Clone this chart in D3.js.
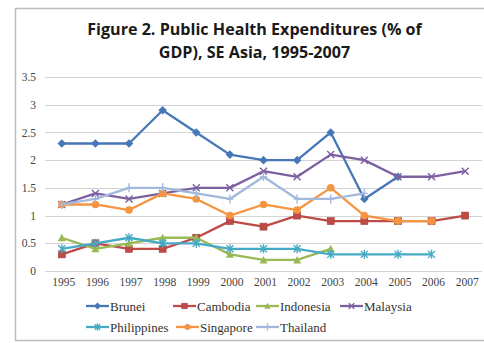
<!DOCTYPE html>
<html>
<head>
<meta charset="utf-8">
<script src="https://cdn.jsdelivr.net/npm/d3@7"></script>
<style>
  html, body { margin: 0; padding: 0; background: #fff; }
  svg { display: block; }
</style>
</head>
<body>
<svg id="chart" width="484" height="343"></svg>
<script>
// Public health expenditure, % of GDP
const years = ["1995","1996","1997","1998","1999","2000","2001","2002","2003","2004","2005","2006","2007"];
const yTicks = [0, 0.5, 1, 1.5, 2, 2.5, 3, 3.5];
const seriesNames = ["Brunei","Cambodia","Indonesia","Malaysia","Philippines","Singapore","Thailand"];

const brunei      = [2.3, 2.3, 2.3, 2.9, 2.5, 2.1, 2.0, 2.0, 2.5, 1.3, 1.7];
const cambodia    = [0.3, 0.5, 0.4, 0.4, 0.6, 0.9, 0.8, 1.0, 0.9, 0.9, 0.9, 0.9, 1.0];
const indonesia   = [0.6, 0.4, 0.5, 0.6, 0.6, 0.3, 0.2, 0.2, 0.4];
const malaysia    = [1.2, 1.4, 1.3, 1.4, 1.5, 1.5, 1.8, 1.7, 2.1, 2.0, 1.7, 1.7, 1.8];
const philippines = [0.4, 0.5, 0.6, 0.5, 0.5, 0.4, 0.4, 0.4, 0.3, 0.3, 0.3, 0.3];
const singapore   = [1.2, 1.2, 1.1, 1.4, 1.3, 1.0, 1.2, 1.1, 1.5, 1.0, 0.9, 0.9];
const thailand    = [1.2, 1.3, 1.5, 1.5, 1.4, 1.3, 1.7, 1.3, 1.3, 1.4];

const colors  = ["#4677b6", "#be4b48", "#98b954", "#7d60a0", "#46aac5", "#f59542", "#a2b9dd"];
const markers = ["diamond", "square", "triangle", "x", "asterisk", "circle", "plus"];
const values  = [brunei, cambodia, indonesia, malaysia, philippines, singapore, thailand];

const series = seriesNames.map((name, i) => ({
  name, color: colors[i], marker: markers[i],
  points: values[i].map((v, j) => ({ year: years[j], value: v }))
}));

const svg = d3.select("#chart");

// outer chart frame
svg.append("rect")
  .attr("x", 15.5).attr("y", 8.5)
  .attr("width", 490).attr("height", 332)
  .attr("fill", "#fff").attr("stroke", "#bdbdbd").attr("stroke-width", 1.5);

// title
const title = svg.append("text")
  .attr("text-anchor", "middle")
  .attr("font-family", "'Open Sans', 'Liberation Sans', sans-serif")
  .attr("font-weight", "bold")
  .attr("fill", "#1a1a1a");
const tl1 = title.append("tspan").attr("x", 254.5).attr("y", 35).text("Figure 2. Public Health Expenditures (% of");
const tl2 = title.append("tspan").attr("x", 254.5).attr("y", 58).text("GDP), SE Asia, 1995-2007");
title.attr("font-size", 17);
const w1 = tl1.node().getComputedTextLength();
title.attr("font-size", 17 * 335 / w1);

// plot area
const plot = { left: 45, right: 482, top: 77, bottom: 271 };

const x = d3.scalePoint().domain(years)
  .range([plot.left, plot.right]).padding(0.5);
const y = d3.scaleLinear().domain([0, 3.5]).range([plot.bottom, plot.top]);

// gridlines
svg.append("g")
  .selectAll("line").data(yTicks).join("line")
  .attr("x1", plot.left).attr("x2", plot.right)
  .attr("y1", d => Math.round(y(d)) + 0.5).attr("y2", d => Math.round(y(d)) + 0.5)
  .attr("stroke", "#d4d4d4").attr("stroke-width", 1);

// y axis labels
const yAxis = d3.axisLeft(y).tickValues(yTicks).tickSize(0).tickPadding(0)
  .tickFormat(d => String(d));
svg.append("g")
  .attr("transform", `translate(36,0)`)
  .call(yAxis)
  .call(g => g.select(".domain").remove())
  .call(g => g.selectAll("text")
    .attr("font-family", "'Liberation Serif', 'Times New Roman', serif")
    .attr("font-size", 11.5).attr("fill", "#444"));

// x axis labels
const xAxis = d3.axisBottom(x).tickSize(0).tickPadding(0);
svg.append("g")
  .attr("transform", `translate(1.5,${plot.bottom + 7})`)
  .call(xAxis)
  .call(g => g.select(".domain").remove())
  .call(g => g.selectAll("text")
    .attr("font-family", "'Liberation Serif', 'Times New Roman', serif")
    .attr("font-size", 11.5).attr("fill", "#444"));

// marker drawing
function drawMarker(sel, type, color, s) {
  const h = s / 2;
  switch (type) {
    case "diamond":
      sel.append("path").attr("d", `M0,${-h-0.8}L${h+0.8},0L0,${h+0.8}L${-h-0.8},0Z`).attr("fill", color);
      break;
    case "square":
      sel.append("rect").attr("x", -h).attr("y", -h).attr("width", s).attr("height", s)
        .attr("fill", color).attr("stroke", d3.color(color).darker(0.4)).attr("stroke-width", 0.6);
      break;
    case "triangle":
      sel.append("path").attr("d", `M0,${-h-0.5}L${h+0.5},${h}L${-h-0.5},${h}Z`).attr("fill", color);
      break;
    case "circle":
      sel.append("circle").attr("r", h + 0.3).attr("fill", color);
      break;
    case "x":
      sel.append("path").attr("d", `M${-h},${-h}L${h},${h}M${-h},${h}L${h},${-h}`)
        .attr("stroke", color).attr("stroke-width", 1.4).attr("fill", "none");
      break;
    case "asterisk":
      sel.append("path").attr("d", `M${-h},${-h}L${h},${h}M${-h},${h}L${h},${-h}M0,${-h-1}L0,${h+1}`)
        .attr("stroke", color).attr("stroke-width", 1.4).attr("fill", "none");
      break;
    case "plus":
      sel.append("path").attr("d", `M${-h},0L${h},0M0,${-h-1}L0,${h+1}`)
        .attr("stroke", color).attr("stroke-width", 1.4).attr("fill", "none");
      break;
  }
}

const line = d3.line().x(d => x(d.year)).y(d => y(d.value));

const sg = svg.append("g").selectAll("g").data(series).join("g");
sg.append("path")
  .attr("d", d => line(d.points))
  .attr("fill", "none")
  .attr("stroke", d => d.color)
  .attr("stroke-width", 2.3)
  .attr("stroke-linejoin", "round");
sg.each(function (d) {
  d3.select(this).selectAll("g.m").data(d.points).join("g")
    .attr("class", "m")
    .attr("transform", p => `translate(${x(p.year)},${y(p.value)})`)
    .each(function () { drawMarker(d3.select(this), d.marker, d.color, 7); });
});

// legend
const legendPos = [
  [86, 306], [173, 306], [256, 306], [340, 306],
  [86, 327], [176, 327], [256, 327]
];
const lg = svg.append("g").selectAll("g").data(series).join("g")
  .attr("transform", (d, i) => `translate(${legendPos[i][0]},${legendPos[i][1]})`);
lg.append("line").attr("x1", 0).attr("x2", 23).attr("y1", 0).attr("y2", 0)
  .attr("stroke", d => d.color).attr("stroke-width", 2.3);
lg.append("g").attr("transform", "translate(11.5,0)")
  .each(function (d) { drawMarker(d3.select(this), d.marker, d.color, 5.5); });
lg.append("text")
  .attr("x", 24).attr("y", 4.5)
  .attr("font-family", "'Liberation Serif', 'Times New Roman', serif")
  .attr("font-size", 13).attr("fill", "#333")
  .text(d => d.name);
</script>
</body>
</html>
